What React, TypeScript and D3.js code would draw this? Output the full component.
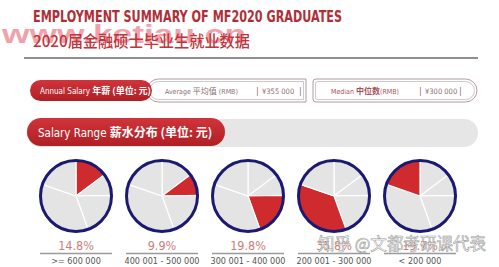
import React from "react";
import * as d3 from "d3";

const categories = [">= 600 000", "400 001 - 500 000", "300 001 - 400 000", "200 001 - 300 000", "< 200 000"];
const shares = [14.8, 9.9, 19.8, 35.8, 19.7];
const percentLabels = ["14.8%", "9.9%", "19.8%", "35.8%", "19.7%"];
const averageValue = "¥355 000";
const medianValue = "¥300 000";

const W = 499;
const H = 267;
const CJK = "'Noto Sans CJK SC', 'Noto Sans', sans-serif";
const NARROW = "'Liberation Sans Narrow', 'DejaVu Sans Condensed', 'Roboto', sans-serif";

export default function App() {
  const x = d3.scalePoint<number>().domain(d3.range(categories.length)).range([76, 420]);
  const cy = 196;
  const r = 35.5;
  const pie = d3.pie<number>().sort(null).value((d) => d);
  const arcs = pie(shares);
  const arcGen = d3.arc<d3.PieArcDatum<number>>().innerRadius(0).outerRadius(r);

  const leftCap = (x0: number, x1: number, y0: number, y1: number) => {
    const rr = (y1 - y0) / 2;
    return `M${x0 + rr},${y0} H${x1} V${y1} H${x0 + rr} A${rr},${rr} 0 0 1 ${x0 + rr},${y0} Z`;
  };
  const rightCap = (x0: number, x1: number, y0: number, y1: number, lr: number) => {
    const rr = (y1 - y0) / 2;
    return `M${x0 + lr},${y0} H${x1 - rr} A${rr},${rr} 0 0 1 ${x1 - rr},${y1} H${x0 + lr} Q${x0},${y1} ${x0},${y1 - lr} V${y0 + lr} Q${x0},${y0} ${x0 + lr},${y0} Z`;
  };

  return (
    <svg width={W} height={H} style={{ position: "absolute", left: 0, top: 0, background: "#fff" }}>
      <defs>
        <linearGradient id="redg" x1="0" y1="0" x2="0" y2="1">
          <stop offset="0" stopColor="#d0343a" />
          <stop offset="1" stopColor="#b01f25" />
        </linearGradient>
      </defs>
      {/* title */}
      <text x={33} y={22} fontFamily={NARROW} fontWeight="bold" fontSize={15} fill="#b02f37" textLength={309} lengthAdjust="spacingAndGlyphs">
        EMPLOYMENT SUMMARY OF MF2020 GRADUATES
      </text>
      <text x={2} y={43} fontFamily="'Liberation Sans', sans-serif" fontWeight="bold" fontSize={25} fill="#f097a3" opacity={0.9} textLength={244} lengthAdjust="spacingAndGlyphs">
        www.ketiau.cn
      </text>
      <text x={33} y={47} fontFamily={CJK} fontWeight={500} fontSize={16} fill="#c0343b" textLength={217} lengthAdjust="spacingAndGlyphs">
        2020届金融硕士毕业生就业数据
      </text>
      <line x1={24} x2={478} y1={58} y2={58} stroke="#6a6a6a" strokeWidth={1.3} />

      {/* Average pill */}
      <path d={leftCap(147, 306, 79, 102)} fill="#fff" stroke="#b39a9e" strokeWidth={1} />
      <path d={leftCap(149.5, 303.5, 81.5, 99.5)} fill="none" stroke="#c8b8ba" strokeWidth={0.8} />
      {/* Annual pill */}
      <rect x={30} y={80} width={122} height={21} rx={10.5} fill="url(#redg)" />
      <text x={40} y={94} fontFamily={NARROW} fontSize={8} fill="#fff">
        Annual Salary <tspan fontFamily={CJK} fontWeight="bold" fontSize={9}>年薪 (单位: 元)</tspan>
      </text>
      <text x={165} y={93.5} fontFamily={NARROW} fontSize={7} fill="#8a6f72">
        Average <tspan fontFamily={CJK} fontSize={8}>平均值</tspan> (RMB)
      </text>
      <text x={256} y={94} fontFamily={NARROW} fontSize={9} fill="#8a6f72">|</text>
      <text x={262} y={93.5} fontFamily={NARROW} fontSize={7.5} fill="#8a6f72">{averageValue}</text>
      <text x={299} y={94} fontFamily={NARROW} fontSize={9} fill="#8a6f72">|</text>

      {/* Median pill */}
      <path d={rightCap(313, 477, 79, 102, 3)} fill="#fff" stroke="#b39a9e" strokeWidth={1} />
      <path d={rightCap(315.5, 474.5, 81.5, 99.5, 2)} fill="none" stroke="#c8b8ba" strokeWidth={0.8} />
      <text x={331} y={93.5} fontFamily={NARROW} fontSize={7} fill="#a8505a">
        Median <tspan fontFamily={CJK} fontWeight="bold" fontSize={8}>中位数</tspan>(RMB)
      </text>
      <text x={419} y={94} fontFamily={NARROW} fontSize={9} fill="#8a6f72">|</text>
      <text x={425} y={93.5} fontFamily={NARROW} fontSize={7.5} fill="#8a6f72">{medianValue}</text>
      <text x={459} y={94} fontFamily={NARROW} fontSize={9} fill="#8a6f72">|</text>

      {/* Salary range bar */}
      <rect x={27} y={119} width={451} height={28} rx={14} fill="#e6e6e6" />
      <rect x={27} y={118} width={198} height={28} rx={14} fill="url(#redg)" />
      <text x={38} y={137} fontFamily={NARROW} fontSize={11.5} fill="#fff">
        Salary Range <tspan fontFamily={CJK} fontWeight="bold" fontSize={12}>薪水分布 (单位: 元)</tspan>
      </text>

      {/* pies */}
      {categories.map((c, i) => {
        const cx = x(i) as number;
        return (
          <g key={c}>
            <g transform={`translate(${cx},${cy})`}>
              {arcs.map((a, j) => (
                <path key={j} d={arcGen(a) || ""} fill={j === i ? "#cf2a2e" : "#e4e4e4"} stroke="#fff" strokeWidth={1.2} />
              ))}
              <circle r={r} fill="none" stroke="#1c1a70" strokeWidth={3} />
            </g>
            <text x={cx} y={250} textAnchor="middle" fontFamily={NARROW} fontSize={12.5} fill="#c98078">
              {percentLabels[i]}
            </text>
            <line x1={cx - 36} x2={cx + 36} y1={253.5} y2={253.5} stroke="#9a9a9a" strokeWidth={1.5} />
            <text x={cx} y={264} textAnchor="middle" fontFamily={NARROW} fontSize={9} fill="#555">
              {c}
            </text>
          </g>
        );
      })}

      {/* bottom watermark */}
      <text x={318} y={250} fontFamily={CJK} fontSize={17} fill="#ffffff" fillOpacity={0.75} stroke="#9a9a9a" strokeWidth={0.6} textLength={168} lengthAdjust="spacingAndGlyphs">
        知乎 @文都考研课代表
      </text>
    </svg>
  );
}
